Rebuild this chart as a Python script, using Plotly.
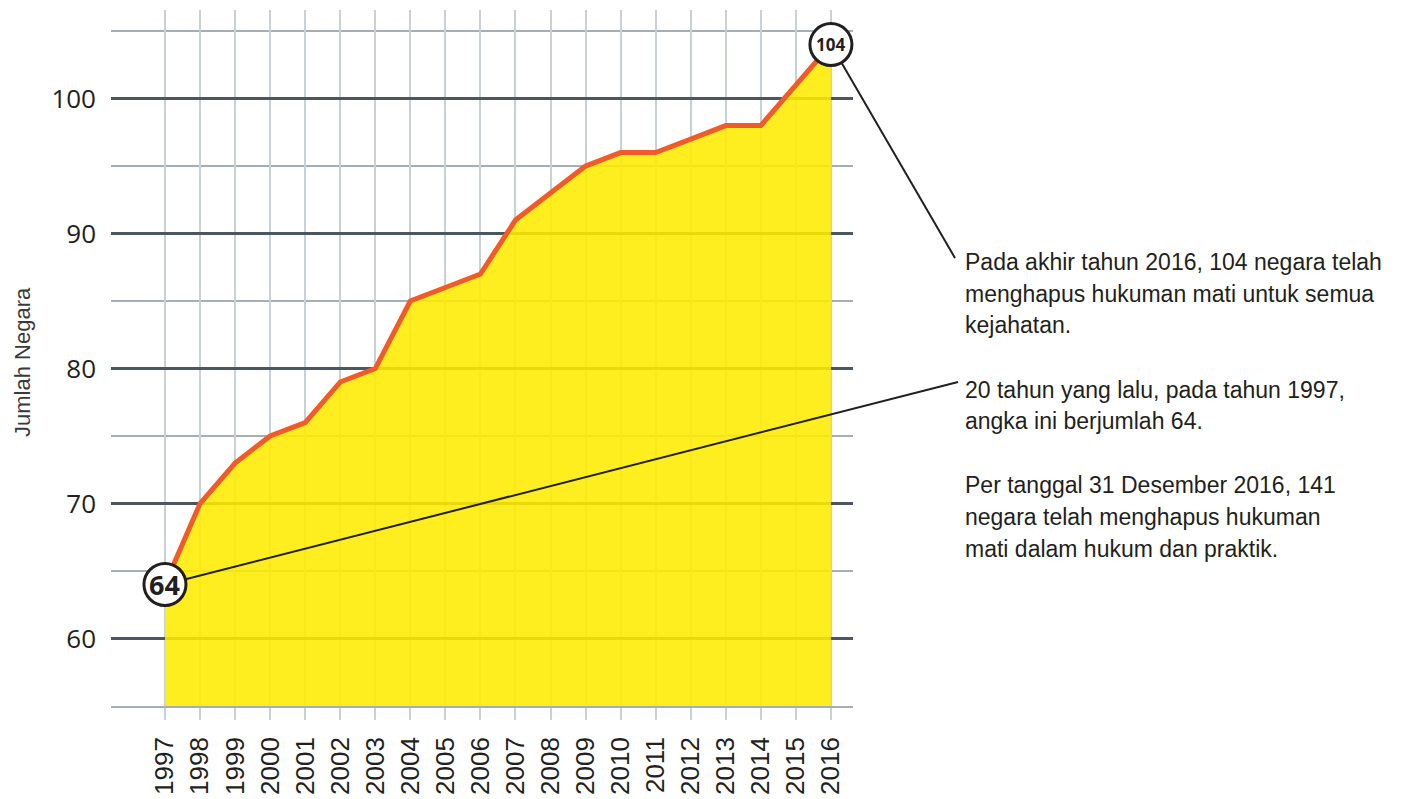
import plotly.graph_objects as go

# ---- data ----
years = list(range(1997, 2017))
countries = [64, 70, 73, 75, 76, 79, 80, 85, 86, 87, 91, 93, 95, 96, 96, 97, 98, 98, 101, 104]
y_tick_vals = [60, 70, 80, 90, 100]
y_tick_text = ["60", "70", "80", "90", "100"]
y_title = "Jumlah Negara"
note_top = ["Pada akhir tahun 2016, 104 negara telah",
            "menghapus hukuman mati untuk semua",
            "kejahatan."]
note_mid = ["20 tahun yang lalu, pada tahun 1997,",
            "angka ini berjumlah 64."]
note_bottom = ["Per tanggal 31 Desember 2016, 141",
               "negara telah menghapus hukuman",
               "mati dalam hukum dan praktik."]

# ---- layout geometry (page pixels; page body has an 8px margin) ----
OFF = 8
W, H = 1401, 799
L, R, T, B = 111, 853, 10, 706          # plot area in page pixels
xr = [1995.46, 2016.63]
yr = [55, 106.56]

def xp(px):
    return (px - L) / (R - L)

def yp(py):
    return (B - py) / (B - T)

def dx(x):
    return (x - xr[0]) / (xr[1] - xr[0])

def dy(y):
    return (y - yr[0]) / (yr[1] - yr[0])

TXT = "#231f20"
MAJOR = "#4b5660"
MINOR = "#a3aeb6"
VGRID = "#c9d1d7"
YELLOW = "rgba(255,236,0,0.88)"
ORANGE = "#f15a29"

fig = go.Figure()
fig.add_trace(go.Scatter(
    x=years, y=countries, mode="lines",
    line=dict(color=ORANGE, width=5),
    fill="tozeroy", fillcolor=YELLOW,
    hoverinfo="skip", showlegend=False,
))

shapes = []
annotations = []

# callout lines (drawn first, circles cover their starts)
first = (dx(years[0]), dy(countries[0]))
last = (dx(years[-1]), dy(countries[-1]))
shapes.append(dict(type="line", xref="paper", yref="paper",
                   x0=last[0], y0=last[1], x1=xp(955), y1=yp(258),
                   line=dict(color=TXT, width=2)))
shapes.append(dict(type="line", xref="paper", yref="paper",
                   x0=first[0], y0=first[1], x1=xp(958), y1=yp(382),
                   line=dict(color=TXT, width=2)))

for (cx, cy), val, fs in [(first, countries[0], 27), (last, countries[-1], 17)]:
    shapes.append(dict(type="circle", xref="paper", yref="paper",
                       xsizemode="pixel", ysizemode="pixel",
                       xanchor=cx, yanchor=cy, x0=-21, x1=21, y0=-21, y1=21,
                       fillcolor="white", line=dict(color=TXT, width=3)))
    annotations.append(dict(x=cx, y=cy, xref="paper", yref="paper",
                            text=f"<b>{val}</b>", showarrow=False,
                            xanchor="center", yanchor="middle",
                            font=dict(family="Open Sans", size=fs, color=TXT)))

# notes
for lines, centers in [(note_top, [262, 294, 325]),
                       (note_mid, [390, 421]),
                       (note_bottom, [485, 517, 549])]:
    for line, c in zip(lines, centers):
        annotations.append(dict(x=xp(963), y=yp(c), xref="paper", yref="paper",
                                text=line, showarrow=False,
                                xanchor="left", yanchor="middle",
                                font=dict(family="Liberation Sans", size=23, color=TXT)))

# y title
annotations.append(dict(x=xp(22), y=yp(362), xref="paper", yref="paper",
                        text=y_title, textangle=-90, showarrow=False,
                        xanchor="center", yanchor="middle",
                        font=dict(family="Liberation Sans", size=22, color="#3a3a3a")))

fig.update_layout(
    width=W - OFF, height=H - OFF,
    margin=dict(l=L - OFF, r=W - R, t=T - OFF, b=H - B, pad=0, autoexpand=False),
    paper_bgcolor="white", plot_bgcolor="white",
    shapes=shapes, annotations=annotations,
    showlegend=False,
    xaxis=dict(
        range=xr, tickmode="array", tickvals=years, ticktext=[str(y) for y in years],
        tickangle=-90, showgrid=True, gridcolor=VGRID, gridwidth=2,
        ticks="outside", ticklen=12, tickcolor=VGRID, tickwidth=2,
        ticklabelstandoff=7, automargin=False,
        showline=True, linecolor=MINOR, linewidth=1.5,
        zeroline=False, fixedrange=True,
        tickfont=dict(family="Liberation Sans", size=26, color=TXT),
    ),
    yaxis=dict(
        range=yr, tickmode="array", tickvals=y_tick_vals, ticktext=y_tick_text,
        showgrid=True, gridcolor=MAJOR, gridwidth=3,
        minor=dict(tickmode="array", tickvals=[55, 65, 75, 85, 95, 105],
                   showgrid=True, gridcolor=MINOR, gridwidth=1.5, ticks=""),
        ticks="", ticklabelstandoff=14, zeroline=False, showline=False,
        automargin=False, fixedrange=True,
        tickfont=dict(family="Open Sans", size=26, color=TXT),
    ),
)

fig.write_html("out.html")
